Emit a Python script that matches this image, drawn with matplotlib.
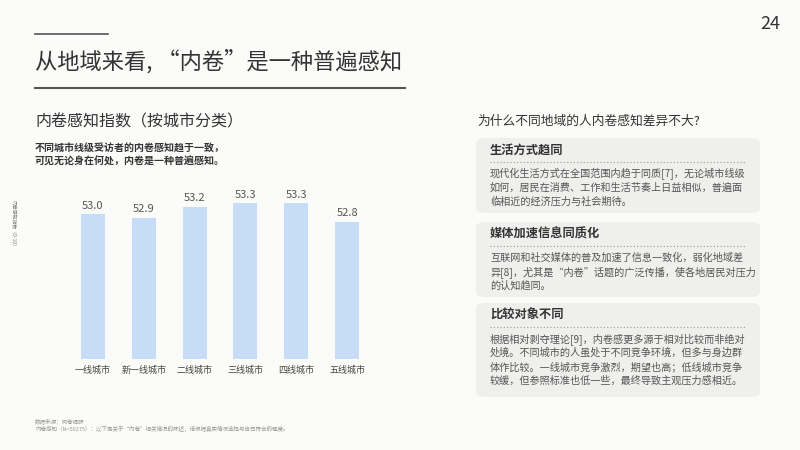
import matplotlib
matplotlib.use("Agg")
import matplotlib.pyplot as plt
from matplotlib.patches import FancyBboxPatch

plt.rcParams["font.family"] = "Noto Sans CJK SC"

categories = ["一线城市", "新一线城市", "二线城市", "三线城市", "四线城市", "五线城市"]
values = [53.0, 52.9, 53.2, 53.3, 53.3, 52.8]
value_labels = ["53.0", "52.9", "53.2", "53.3", "53.3", "52.8"]

W, H = 800, 450
bg = "#fbfbf9"
fig = plt.figure(figsize=(8, 4.5), dpi=100, facecolor=bg)

def fx(x): return x / W
def fy(y): return 1 - y / H

# header
fig.text(fx(770), fy(24), "24", fontsize=13, color="#333333", ha="center", va="center")
fig.add_artist(plt.Line2D([fx(35), fx(108)], [fy(34), fy(34)], color="#555555", lw=1.2))
fig.text(fx(35), fy(61), "从地域来看, “内卷”是一种普遍感知", fontsize=16, color="#333333",
         va="center", fontweight="medium")
fig.add_artist(plt.Line2D([fx(35), fx(405)], [fy(88), fy(88)], color="#555555", lw=1.5))

fig.text(fx(35), fy(122), "内卷感知指数（按城市分类）", fontsize=11.5, color="#333333", va="center", fontweight="medium")
fig.text(fx(35), fy(149), "不同城市线级受访者的内卷感知趋于一致，", fontsize=7.2, color="#333333", va="center", fontweight="bold")
fig.text(fx(35), fy(162), "可见无论身在何处，内卷是一种普遍感知。", fontsize=7.2, color="#333333", va="center", fontweight="bold")
fig.text(fx(13), fy(225), "内卷感知指数（0-10）", fontsize=3.5, color="#777777", rotation=270, ha="center", va="center")

# chart
ax = fig.add_axes([fx(65), fy(359), fx(375) - fx(65), fy(170) - fy(359)])
ax.set_facecolor(bg)
x = range(len(categories))
ax.bar(x, values, width=0.47, color="#c6dcf7")
for i, (v, lab) in enumerate(zip(values, value_labels)):
    ax.text(i, v + 0.1, lab, ha="center", va="bottom", fontsize=8, color="#555555")
ax.set_ylim(49.1, 54.2)
ax.set_xlim(-0.55, len(categories) - 0.45)
ax.set_xticks(list(x))
ax.set_xticklabels(categories, fontsize=6.5, color="#444444")
ax.tick_params(axis="x", length=0, pad=5)
ax.set_yticks([])
for s in ax.spines.values():
    s.set_visible(False)

fig.text(fx(35), fy(421), "数据来源：问卷调研", fontsize=4, color="#999999", va="center")
fig.text(fx(35), fy(429), "内卷感知（N=50275）：以下是关于“内卷”相关情况的陈述，请根据真实情况选择与自己符合的程度。",
         fontsize=4, color="#999999", va="center")

# right panel
fig.text(fx(477), fy(121), "为什么不同地域的人内卷感知差异不大?", fontsize=9.2, color="#333333", va="center", fontweight="medium")

boxes = [
    (138, 213, "生活方式趋同",
     ["现代化生活方式在全国范围内趋于同质[7]，无论城市线级",
      "如何，居民在消费、工作和生活节奏上日益相似，普遍面",
      "临相近的经济压力与社会期待。"]),
    (222, 297, "媒体加速信息同质化",
     ["互联网和社交媒体的普及加速了信息一致化，弱化地域差",
      "异[8]，尤其是“内卷”话题的广泛传播，使各地居民对压力",
      "的认知趋同。"]),
    (303, 397, "比较对象不同",
     ["根据相对剥夺理论[9]，内卷感更多源于相对比较而非绝对",
      "处境。不同城市的人虽处于不同竞争环境，但多与身边群",
      "体作比较。一线城市竞争激烈，期望也高；低线城市竞争",
      "较缓，但参照标准也低一些，最终导致主观压力感相近。"]),
]
for top, bot, head, lines in boxes:
    p = FancyBboxPatch((fx(476), fy(bot)), fx(760) - fx(476), fy(top) - fy(bot),
                       boxstyle="round,pad=0,rounding_size=0.012", transform=fig.transFigure,
                       facecolor="#efefed", edgecolor="none")
    fig.add_artist(p)
    fig.text(fx(490), fy(top + 12), head, fontsize=8.8, color="#333333", va="center", fontweight="bold")
    fig.add_artist(plt.Line2D([fx(490), fx(746)], [fy(top + 24), fy(top + 24)],
                              color="#999999", lw=0.8, linestyle=(0, (1, 2))))
    for j, ln in enumerate(lines):
        fig.text(fx(490), fy(top + 36 + j * 14), ln, fontsize=7.3, color="#555555", va="center")

fig.savefig("out.png", dpi=100, facecolor=bg)
